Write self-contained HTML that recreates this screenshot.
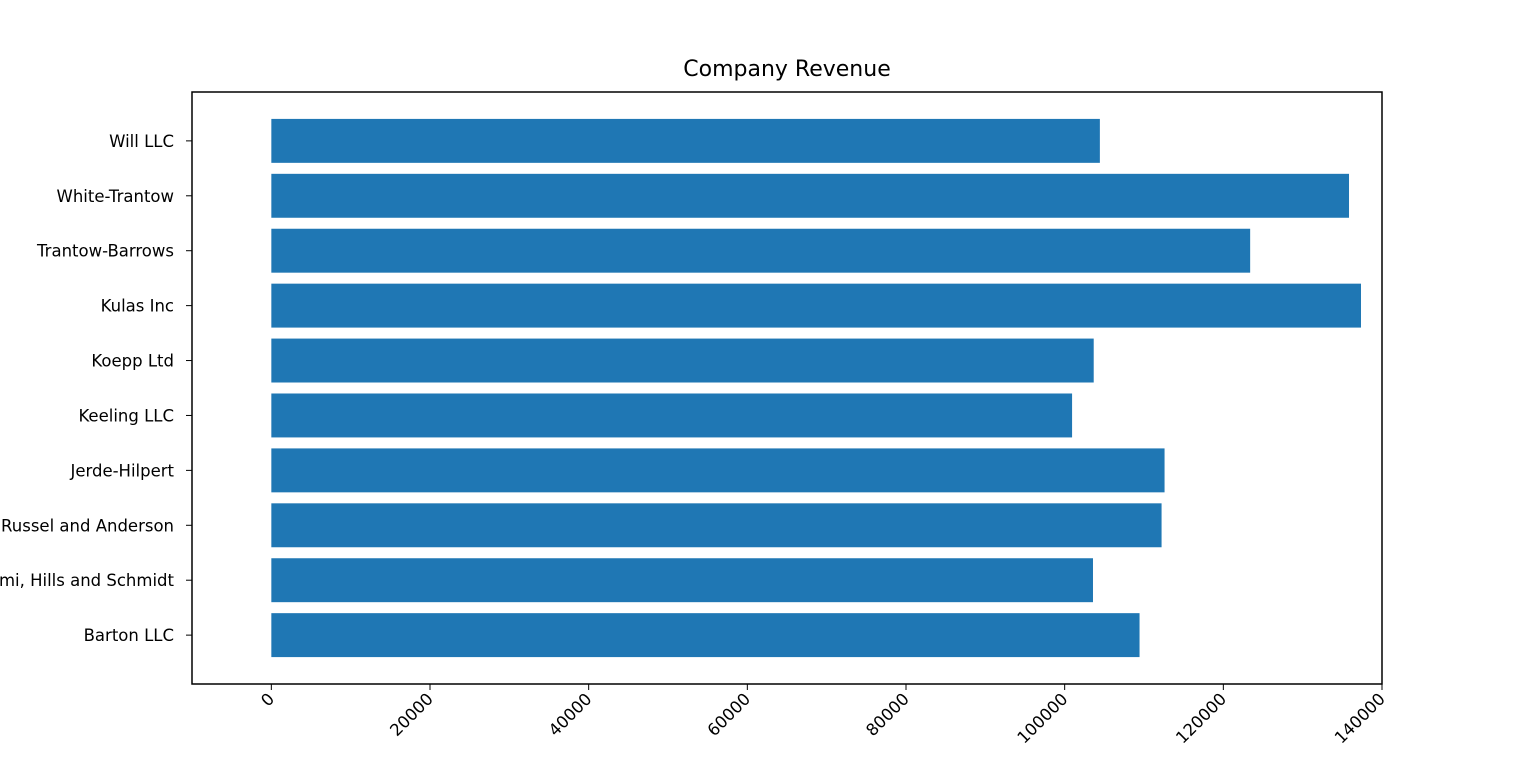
<!DOCTYPE html>
<html><head><meta charset="utf-8"><style>
html,body{margin:0;padding:0;background:#fff;width:1536px;height:768px;overflow:hidden}
svg{font-family:"DejaVu Sans","Liberation Sans",sans-serif}
</style></head><body>
<svg id="chart" width="1536" height="768" xmlns="http://www.w3.org/2000/svg">
<rect width="1536" height="768" fill="#fff"/>
<text x="787" y="76" font-size="22" text-anchor="middle" fill="#000">Company Revenue</text>
<g id="bars"></g>
<g id="yticks"></g>
<g id="xticks"></g>
<rect x="192" y="92" width="1190" height="592" fill="none" stroke="#000" stroke-width="1.5"/>
</svg>
<script>
const companies = ["Barton LLC","Frami, Hills and Schmidt","Fritsch, Russel and Anderson","Jerde-Hilpert","Keeling LLC","Koepp Ltd","Kulas Inc","Trantow-Barrows","White-Trantow","Will LLC"];
const revenue = [109438.5,103569.59,112214.71,112591.43,100934.3,103660.54,137351.96,123381.38,135841.99,104437.6];
const xTicks = [0,20000,40000,60000,80000,100000,120000,140000];
const xTickLabels = ["0","20000","40000","60000","80000","100000","120000","140000"];
const NS="http://www.w3.org/2000/svg";
const L=192,R=1382,T=92,B=684;
const xmin=-10000,xmax=140000;
const ymin=-0.89,ymax=9.89;
function xs(v){return L+(v-xmin)/(xmax-xmin)*(R-L);}
function ys(i){return B-(i-ymin)/(ymax-ymin)*(B-T);}
const bars=document.getElementById('bars'),yt=document.getElementById('yticks'),xt=document.getElementById('xticks');
const bh=0.8*(B-T)/(ymax-ymin);
companies.forEach((c,i)=>{
  const r=document.createElementNS(NS,'rect');
  
  
  r.setAttribute('x',xs(0));r.setAttribute('width',xs(revenue[i])-xs(0));
  r.setAttribute('y',ys(i)-bh/2);r.setAttribute('height',bh);r.setAttribute('fill','#1f77b4');
  bars.appendChild(r);
  const tk=document.createElementNS(NS,'line');
  
  
  tk.setAttribute('x1',L-6);tk.setAttribute('x2',L);tk.setAttribute('y1',ys(i));tk.setAttribute('y2',ys(i));tk.setAttribute('stroke','#000');
  yt.appendChild(tk);
  const t=document.createElementNS(NS,'text');
  
  
  t.setAttribute('x',L-18);t.setAttribute('y',ys(i)+6);t.setAttribute('font-size','16.5');t.setAttribute('text-anchor','end');
  t.textContent=c;yt.appendChild(t);
});
xTicks.forEach((v,i)=>{
  const x=xs(v);
  const tk=document.createElementNS(NS,'line');
  
  
  tk.setAttribute('x1',x);tk.setAttribute('x2',x);tk.setAttribute('y1',B);tk.setAttribute('y2',B+6);tk.setAttribute('stroke','#000');
  xt.appendChild(tk);
  const t=document.createElementNS(NS,'text');
  
  
  t.setAttribute('x',x+4);t.setAttribute('y',B+16);t.setAttribute('font-size','16.5');t.setAttribute('text-anchor','end');
  t.setAttribute('transform','rotate(-45 '+(x+4)+' '+(B+16)+')');
  t.textContent=xTickLabels[i];xt.appendChild(t);
});
</script>
</body></html>
